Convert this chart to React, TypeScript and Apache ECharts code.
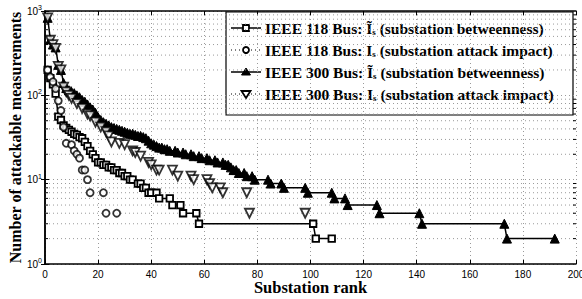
import React, { useEffect, useRef } from "react";
import * as echarts from "echarts";

// IEEE 118 Bus: substation betweenness (squares, solid)
const b118Rank = [1, 2, 3, 4, 5, 6, 7, 8, 9, 10, 11, 12, 13, 14, 15, 16, 17, 18, 19, 20, 21, 22, 23, 24, 25, 26, 27, 28, 29, 30, 31, 32, 33, 35, 36, 37, 38, 39, 40, 42, 43, 47, 48, 51, 52, 57, 58, 101, 102, 108];
const b118Val = [200, 160, 135, 105, 56, 51, 44, 41, 39, 37, 35, 34, 32, 31, 28, 25, 22, 20, 18, 16, 16, 15, 15, 14, 14, 13, 13, 12, 12, 11, 11, 10, 10, 9, 9, 8, 8, 7, 7, 7, 6, 6, 5, 5, 4, 4, 3, 3, 2, 2];

// IEEE 118 Bus: substation attack impact (circles)
const a118Rank = [1, 2, 3, 4, 5, 6, 7, 8, 10, 11, 12, 13, 14, 15, 16, 17, 22, 23, 27];
const a118Val = [200, 165, 145, 120, 86, 66, 42, 27, 26, 22, 20, 18, 13, 13, 10, 7, 7, 4, 4];

// IEEE 300 Bus: substation betweenness (triangles, solid)
const b300Rank = [1, 2, 3, 4, 5, 6, 7, 8, 9, 10, 11, 12, 13, 14, 15, 16, 17, 18, 19, 20, 21, 22, 23, 24, 25, 26, 27, 28, 29, 30, 31, 32, 33, 34, 35, 36, 37, 38, 39, 40, 41, 42, 43, 44, 45, 46, 47, 49, 50, 52, 53, 55, 56, 58, 59, 61, 62, 64, 65, 67, 68, 69, 70, 71, 72, 73, 75, 76, 78, 79, 84, 85, 89, 90, 98, 99, 108, 109, 113, 114, 125, 126, 141, 142, 173, 174, 192];
const b300Val = [830, 460, 400, 370, 230, 200, 140, 122, 115, 110, 106, 100, 95, 88, 84, 78, 72, 68, 62, 55, 51, 48, 46, 44, 42, 41, 40, 39, 38, 37, 36, 35, 35, 34, 33, 33, 32, 31, 29, 27, 26, 25, 24, 24, 23, 23, 22, 22, 21, 21, 20, 20, 19, 19, 18, 18, 17, 17, 16, 16, 15, 15, 14, 13, 13, 12, 12, 11, 11, 10, 10, 9, 9, 8, 8, 7, 7, 6, 6, 5, 5, 4, 4, 3, 3, 2, 2];

// IEEE 300 Bus: substation attack impact (inverted triangles)
const a300Rank = [1, 2, 3, 4, 5, 6, 7, 8, 9, 10, 12, 14, 16, 17, 19, 21, 23, 24, 25, 28, 30, 33, 34, 36, 39, 40, 42, 43, 48, 50, 55, 56, 61, 62, 63, 66, 67, 76, 77, 98];
const a300Val = [830, 450, 400, 360, 220, 200, 125, 110, 100, 92, 80, 70, 60, 57, 48, 42, 37, 33, 28, 27, 26, 22, 21, 19, 16, 15, 13, 13, 13, 11, 11, 10, 10, 9, 8, 8, 7, 7, 4, 4];

const xTicks = [0, 20, 40, 60, 80, 100, 120, 140, 160, 180, 200];
const yMinor = [2, 3, 4, 5, 6, 7, 8, 9, 20, 30, 40, 50, 60, 70, 80, 90, 200, 300, 400, 500, 600, 700, 800, 900];

const legendLabels = [
  { pre: "IEEE 118 Bus: ", sym: "Ĩ", post: " (substation betweenness)" },
  { pre: "IEEE 118 Bus: ", sym: "I", post: " (substation attack impact)" },
  { pre: "IEEE 300 Bus: ", sym: "Ĩ", post: " (substation betweenness)" },
  { pre: "IEEE 300 Bus: ", sym: "I", post: " (substation attack impact)" },
];

const SERIF = "'Liberation Serif', 'DejaVu Serif', serif";
const SANS = "'Liberation Sans', Arial, sans-serif";
const GRIDC = "#9a9a9a";

function pairs(r: number[], v: number[]) {
  return r.map((x, i) => [x, v[i]]);
}

export default function App() {
  const ref = useRef<HTMLDivElement>(null);
  useEffect(() => {
    if (!ref.current) return;
    const chart = echarts.init(ref.current, null, { renderer: "svg" });

    const gl = 45, gt = 11, gr = 6, gb = 35;
    const lx = 226, ly = 12, lw = 347, lh = 103;
    const rowY = [28, 50, 72, 94];
    const legendChildren: any[] = [
      { type: "rect", shape: { x: lx, y: ly, width: lw, height: lh }, style: { fill: "#fff", stroke: "#000", lineWidth: 1.2 } },
    ];
    rowY.forEach((y, i) => {
      const dotted = i === 1 || i === 3;
      legendChildren.push({
        type: "line",
        shape: { x1: 231, y1: y, x2: 261, y2: y },
        style: { stroke: "#000", lineWidth: dotted ? 1 : 1.5, lineDash: dotted ? [1, 3] : null },
      });
      const cx = 246;
      if (i === 0) legendChildren.push({ type: "rect", shape: { x: cx - 3, y: y - 3, width: 6, height: 6 }, style: { fill: "#fff", stroke: "#000", lineWidth: 1.8 } });
      if (i === 1) legendChildren.push({ type: "circle", shape: { cx, cy: y, r: 3 }, style: { fill: "#fff", stroke: "#000", lineWidth: 1.8 } });
      if (i === 2) legendChildren.push({ type: "polygon", shape: { points: [[cx, y - 4], [cx - 4.5, y + 3], [cx + 4.5, y + 3]] }, style: { fill: "#000", stroke: "#000", lineWidth: 1 } });
      if (i === 3) legendChildren.push({ type: "polygon", shape: { points: [[cx, y + 4], [cx - 4.5, y - 3], [cx + 4.5, y - 3]] }, style: { fill: "#fff", stroke: "#000", lineWidth: 1.8 } });
      const L = legendLabels[i];
      legendChildren.push({
        type: "text",
        x: 265,
        y: y,
        style: {
          text: `{b|${L.pre}${L.sym}}{s|s}{b|${L.post}}`,
          verticalAlign: "middle",
          rich: {
            b: { fontFamily: SERIF, fontWeight: "bold", fontSize: 15.5, fill: "#000" },
            s: { fontFamily: SERIF, fontWeight: "bold", fontSize: 9, fill: "#000", padding: [7, 0, 0, 0] },
          },
        },
      });
    });

    const option: any = {
      animation: false,
      backgroundColor: "#fff",
      grid: { left: gl, top: gt, right: gr, bottom: gb, containLabel: false, outerBoundsMode: "none" },
      xAxis: [
        {
          type: "value",
          min: 0,
          max: 200,
          interval: 20,
          position: "bottom",
          name: "Substation rank",
          nameLocation: "middle",
          nameGap: 15,
          nameMoveOverlap: false,
          nameTextStyle: { fontFamily: SERIF, fontWeight: "bold", fontSize: 16.5, color: "#000", verticalAlign: "top" },
          axisLine: { lineStyle: { color: "#000", width: 1.5 } },
          axisTick: { inside: true, length: 4, lineStyle: { color: "#000" } },
          axisLabel: { fontFamily: SANS, fontSize: 10, color: "#000", margin: 5, formatter: (v: number) => (xTicks.includes(v) ? String(v) : "") },
          splitLine: { show: true, lineStyle: { color: GRIDC, type: [1, 3], width: 1 } },
        },
        {
          type: "value",
          min: 0,
          max: 200,
          interval: 20,
          position: "top",
          axisLine: { lineStyle: { color: "#000", width: 1.5 } },
          axisTick: { inside: true, length: 4, lineStyle: { color: "#000" } },
          axisLabel: { show: false },
          splitLine: { show: false },
        },
      ],
      yAxis: [
        {
          type: "log",
          logBase: 10,
          min: 1,
          max: 1000,
          position: "left",
          name: "Number of attackable measurements",
          nameLocation: "middle",
          nameGap: 22,
          nameMoveOverlap: false,
          nameTextStyle: { fontFamily: SERIF, fontWeight: "bold", fontSize: 16, color: "#000" },
          axisLine: { lineStyle: { color: "#000", width: 1.5 } },
          axisTick: { inside: true, length: 4, lineStyle: { color: "#000" } },
          axisLabel: {
            margin: 3,
            formatter: (v: number) => `{b|10}{p|${Math.round(Math.log10(v))}}`,
            rich: {
              b: { fontFamily: SANS, fontSize: 10, color: "#000" },
              p: { fontFamily: SANS, fontSize: 7, color: "#000", padding: [0, 0, 7, 0] },
            },
          },
          splitLine: { show: true, lineStyle: { color: GRIDC, type: [1, 3], width: 1 } },
        },
        {
          type: "log",
          logBase: 10,
          min: 1,
          max: 1000,
          position: "right",
          axisLine: { lineStyle: { color: "#000", width: 1.5 } },
          axisTick: { inside: true, length: 4, lineStyle: { color: "#000" } },
          axisLabel: { show: false },
          splitLine: { show: false },
        },
      ],
      series: [
        {
          type: "custom",
          silent: true,
          z: 1,
          xAxisIndex: 0,
          yAxisIndex: 0,
          encode: { x: 0, y: 1 },
          data: yMinor.map((v) => [0, v]),
          renderItem: (params: any, api: any) => {
            const cs = params.coordSys;
            const y = api.coord([0, api.value(1)])[1];
            return {
              type: "group",
              children: [
                { type: "line", shape: { x1: cs.x, y1: y, x2: cs.x + cs.width, y2: y }, style: { stroke: GRIDC, lineWidth: 1, lineDash: [1, 3] } },
                { type: "line", shape: { x1: cs.x, y1: y, x2: cs.x + 3, y2: y }, style: { stroke: "#000", lineWidth: 1 } },
                { type: "line", shape: { x1: cs.x + cs.width - 3, y1: y, x2: cs.x + cs.width, y2: y }, style: { stroke: "#000", lineWidth: 1 } },
              ],
            };
          },
        },
        {
          name: "118 betweenness",
          type: "line",
          z: 3,
          data: pairs(b118Rank, b118Val),
          symbol: "rect",
          symbolSize: 6.5,
          lineStyle: { color: "#000", width: 1.5 },
          itemStyle: { color: "#fff", borderColor: "#000", borderWidth: 1.8 },
        },
        {
          name: "118 attack impact",
          type: "scatter",
          z: 3,
          data: pairs(a118Rank, a118Val),
          symbol: "circle",
          symbolSize: 7,
          itemStyle: { color: "#fff", borderColor: "#000", borderWidth: 1.8 },
        },
        {
          name: "300 betweenness",
          type: "line",
          z: 3,
          data: pairs(b300Rank, b300Val),
          symbol: "triangle",
          symbolSize: 9,
          lineStyle: { color: "#000", width: 1.5 },
          itemStyle: { color: "#000", borderColor: "#000", borderWidth: 1 },
        },
        {
          name: "300 attack impact",
          type: "scatter",
          z: 3,
          data: pairs(a300Rank, a300Val),
          symbol: "triangle",
          symbolRotate: 180,
          symbolSize: 9,
          itemStyle: { color: "#fff", borderColor: "#000", borderWidth: 1.8 },
        },
      ],
      graphic: [{ type: "group", z: 100, children: legendChildren }],
    };
    chart.setOption(option);
    return () => chart.dispose();
  }, []);
  return <div ref={ref} style={{ position: "fixed", left: 0, top: 0, width: 582, height: 299, background: "#fff" }} />;
}
